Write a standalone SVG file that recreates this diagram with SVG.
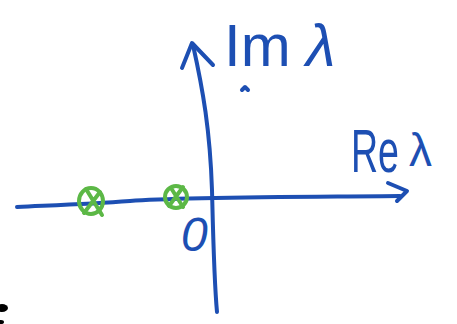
<svg xmlns="http://www.w3.org/2000/svg" width="457" height="324" viewBox="0 0 457 324">
<style>
.ax{fill:none;stroke:#1d4fb3;stroke-width:4;stroke-linecap:round;stroke-linejoin:round}
.lbl{fill:#1d4fb3;font-family:"Liberation Sans","DejaVu Sans",sans-serif}
.pole{fill:none;stroke:#5cb846;stroke-width:4;stroke-linecap:round}
</style>
<rect width="457" height="324" fill="#fff"/>
<g id="axes">
<path class="ax" d="M17,207 C60,205 90,204 130,201 C180,197 300,197 400,196"/>
<path class="ax" d="M388,183 L407,191 L397,201"/>
<path class="ax" d="M217,312 C214,280 213,230 212,190 C210,130 203,90 193,45"/>
<path class="ax" d="M182,68 L192,43 L213,65"/>
<path class="ax" d="M242,90 L245,87 L248,90" stroke-width="2"/>
</g>
<g id="label-im"><text class="lbl" x="224" y="66" font-size="60">Im <tspan x="306" font-style="italic">λ</tspan></text></g>
<g id="label-re"><text class="lbl" x="351" y="172" font-size="62"><tspan textLength="48" lengthAdjust="spacingAndGlyphs">Re</tspan><tspan font-size="8"> </tspan><tspan x="409" y="166" font-size="46">λ</tspan></text></g>
<g id="label-zero"><text class="lbl" x="181" y="251" font-size="48" font-style="italic">0</text></g>
<g id="pole1">
<ellipse class="pole" cx="91" cy="201" rx="12" ry="13"/>
<path class="pole" d="M86,189 L102,215 M100,192 L84,213"/>
</g>
<g id="pole2">
<ellipse class="pole" cx="176" cy="197" rx="11" ry="11"/>
<path class="pole" d="M171,188 L183,207 M183,187 L169,206"/>
</g>
<g id="marks">
<ellipse cx="2" cy="308" rx="6" ry="4" fill="#000"/>
<ellipse cx="1" cy="322" rx="3" ry="2" fill="#000"/>
</g>
</svg>
